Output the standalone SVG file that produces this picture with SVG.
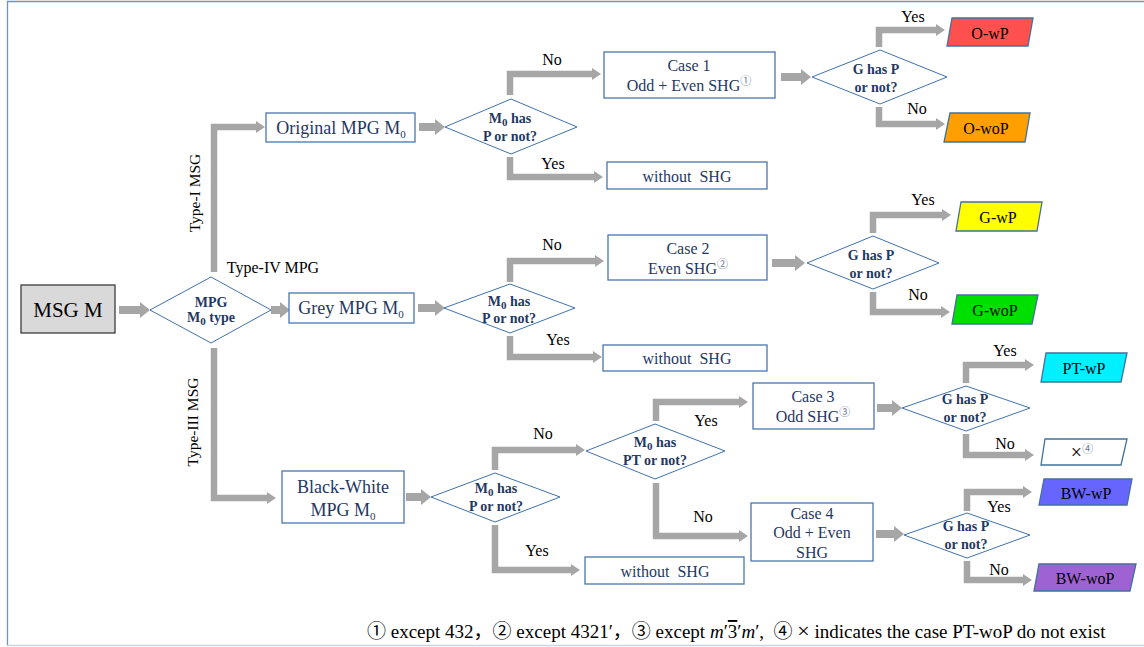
<svg xmlns="http://www.w3.org/2000/svg" width="1144" height="647" viewBox="0 0 1144 647">
<style>
.frame{stroke:#6f93bd;stroke-width:1.3;fill:none}
.box{fill:#fff;stroke:#4a76ad;stroke-width:1.3}
.gbox{fill:#d9d9d9;stroke:#3c3c3c;stroke-width:1.3}
.dia{fill:#fff;stroke:#3f72af;stroke-width:1}
.para{stroke:#41719c;stroke-width:1.3}
text{font-family:"Liberation Serif","Times New Roman","Noto Sans CJK SC",serif}
.t{font-size:16px;fill:#1f3864;text-anchor:middle}
.tl{font-size:18px;fill:#1f3864;text-anchor:middle}
.d{font-size:14px;font-weight:bold;fill:#1f3864;text-anchor:middle}
.lbl{font-size:16px;fill:#000;text-anchor:middle}
.r{font-size:16px;fill:#000;text-anchor:middle}
.sub{font-size:11px}
.sup{font-size:11px;fill:#6a7a9a}
.c{fill:none;stroke:#a6a6a6;stroke-width:6.5;marker-end:url(#ah)}
.s{fill:none;stroke:#a6a6a6;stroke-width:8;marker-end:url(#ahs)}
.rot{font-size:15.5px;fill:#000;text-anchor:middle}
</style>
<defs>
<marker id="ah" markerUnits="userSpaceOnUse" markerWidth="9" markerHeight="12" refX="0" refY="6" orient="auto" overflow="visible">
<path d="M0,0 L9,6 L0,12 Z" fill="#a6a6a6"/>
</marker>
<marker id="ahs" markerUnits="userSpaceOnUse" markerWidth="10" markerHeight="16" refX="0" refY="8" orient="auto" overflow="visible">
<path d="M0,0 L10,8 L0,16 Z" fill="#a6a6a6"/>
</marker>
</defs>
<rect width="1144" height="647" fill="#fff"/>
<path class="frame" d="M1144,1.5 H7.5 V645.5"/>
<path d="M7.5,645.5 H1144" stroke="#c9d5e5" stroke-width="1.5" fill="none"/>

<g id="connectors">
<path class="s" d="M119,310 H140"/>
<path class="c" d="M214,272 V127 H256"/>
<path class="s" d="M271,310 H280"/>
<path class="c" d="M214,348 V498 H267"/>
<path class="s" d="M419,127 H435"/>
<path class="c" d="M510,95 V74 H592"/>
<path class="c" d="M510,157 V177 H594"/>
<path class="s" d="M781,77 H801"/>
<path class="c" d="M879,47 V30 H936"/>
<path class="c" d="M879,107 V124 H936"/>
<path class="s" d="M418,308 H435"/>
<path class="c" d="M510,282 V261 H595"/>
<path class="c" d="M510,336 V357 H593"/>
<path class="s" d="M772,263 H795"/>
<path class="c" d="M873,233 V215 H942"/>
<path class="c" d="M873,292 V312 H941"/>
<path class="s" d="M406,497 H421"/>
<path class="c" d="M495,470 V450 H576"/>
<path class="c" d="M495,525 V570 H571"/>
<path class="c" d="M656,421 V402 H739"/>
<path class="c" d="M656,483 V536 H739"/>
<path class="s" d="M877,408 H892"/>
<path class="c" d="M966,383 V365 H1025"/>
<path class="c" d="M966,434 V455 H1025"/>
<path class="s" d="M876,534 H894"/>
<path class="c" d="M967,511 V492 H1023"/>
<path class="c" d="M967,561 V580 H1023"/>
</g>

<g id="edge-labels">
<text class="rot" transform="translate(200,193) rotate(-90)">Type-I MSG</text>
<text class="rot" transform="translate(198,422) rotate(-90)">Type-III MSG</text>
<text class="lbl" x="273" y="273">Type-IV MPG</text>
<text class="lbl" x="552" y="65">No</text>
<text class="lbl" x="553" y="169">Yes</text>
<text class="lbl" x="913" y="22">Yes</text>
<text class="lbl" x="917" y="114">No</text>
<text class="lbl" x="552" y="250">No</text>
<text class="lbl" x="558" y="345">Yes</text>
<text class="lbl" x="923" y="205">Yes</text>
<text class="lbl" x="918" y="300">No</text>
<text class="lbl" x="543" y="439">No</text>
<text class="lbl" x="537" y="556">Yes</text>
<text class="lbl" x="706" y="426">Yes</text>
<text class="lbl" x="703" y="522">No</text>
<text class="lbl" x="1005" y="356">Yes</text>
<text class="lbl" x="1005" y="449">No</text>
<text class="lbl" x="999" y="512">Yes</text>
<text class="lbl" x="999" y="575">No</text>
</g>

<g id="msg-m">
<rect class="gbox" x="21" y="285" width="94" height="48"/>
<text x="68" y="317" style="font-size:21px;fill:#000;text-anchor:middle">MSG M</text>
</g>

<g id="mpg-type">
<polygon class="dia" points="150,310 211,277 271,310 211,343"/>
<text class="d" x="211" y="307">MPG</text>
<text class="d" x="211" y="322">M<tspan class="sub" dy="3">0</tspan><tspan dy="-3"> type</tspan></text>
</g>

<g id="original-mpg">
<rect class="box" x="266" y="113" width="149" height="29"/>
<text class="tl" x="341" y="134">Original MPG M<tspan class="sub" dy="4">0</tspan></text>
</g>

<g id="grey-mpg">
<rect class="box" x="289" y="293" width="125" height="30"/>
<text class="tl" x="351" y="314">Grey MPG M<tspan class="sub" dy="4">0</tspan></text>
</g>

<g id="bw-mpg">
<rect class="box" x="282" y="471" width="122" height="52"/>
<text class="tl" x="343" y="493">Black-White</text>
<text class="tl" x="343" y="516">MPG M<tspan class="sub" dy="4">0</tspan></text>
</g>

<g id="d-original">
<polygon class="dia" points="445,127 511,99 577,127 511,154"/>
<text class="d" x="510" y="123">M<tspan class="sub" dy="3">0</tspan><tspan dy="-3"> has</tspan></text>
<text class="d" x="510" y="141">P or not?</text>
</g>

<g id="d-grey">
<polygon class="dia" points="444,308 510,284 575,308 510,333"/>
<text class="d" x="509" y="306">M<tspan class="sub" dy="3">0</tspan><tspan dy="-3"> has</tspan></text>
<text class="d" x="509" y="323">P or not?</text>
</g>

<g id="d-bw">
<polygon class="dia" points="431,497 495,473 560,497 495,522"/>
<text class="d" x="496" y="493">M<tspan class="sub" dy="3">0</tspan><tspan dy="-3"> has</tspan></text>
<text class="d" x="496" y="511">P or not?</text>
</g>

<g id="d-pt">
<polygon class="dia" points="586,451 655,424 725,451 655,479"/>
<text class="d" x="655" y="447">M<tspan class="sub" dy="3">0</tspan><tspan dy="-3"> has</tspan></text>
<text class="d" x="655" y="465">PT or not?</text>
</g>

<g id="case1">
<rect class="box" x="604" y="52" width="171" height="46"/>
<text class="t" x="689" y="71">Case 1</text>
<text class="t" x="689" y="91">Odd + Even SHG<tspan class="sup" dy="-6">①</tspan></text>
</g>

<g id="nshg1">
<rect class="box" x="607" y="162" width="160" height="27"/>
<text class="t" x="687" y="182">without&#160; SHG</text>
</g>

<g id="case2">
<rect class="box" x="608" y="235" width="159" height="45"/>
<text class="t" x="688" y="254">Case 2</text>
<text class="t" x="688" y="274">Even SHG<tspan class="sup" dy="-6">②</tspan></text>
</g>

<g id="nshg2">
<rect class="box" x="603" y="345" width="164" height="26"/>
<text class="t" x="687" y="364">without&#160; SHG</text>
</g>

<g id="case3">
<rect class="box" x="753" y="383" width="121" height="46"/>
<text class="t" x="813" y="402">Case 3</text>
<text class="t" x="813" y="422">Odd SHG<tspan class="sup" dy="-6">③</tspan></text>
</g>

<g id="case4">
<rect class="box" x="751" y="503" width="122" height="58"/>
<text class="t" x="812" y="519">Case 4</text>
<text class="t" x="812" y="538">Odd + Even</text>
<text class="t" x="812" y="558">SHG</text>
</g>

<g id="nshg3">
<rect class="box" x="585" y="557" width="159" height="27"/>
<text class="t" x="665" y="577">without&#160; SHG</text>
</g>

<g id="d-g1">
<polygon class="dia" points="812,77 880,50 947,77 880,104"/>
<text class="d" x="876" y="74">G has P</text>
<text class="d" x="876" y="92">or not?</text>
</g>

<g id="d-g2">
<polygon class="dia" points="807,263 873,236 939,263 873,289"/>
<text class="d" x="871" y="260">G has P</text>
<text class="d" x="871" y="278">or not?</text>
</g>

<g id="d-g3">
<polygon class="dia" points="902,408 966,386 1030,408 966,431"/>
<text class="d" x="965" y="404">G has P</text>
<text class="d" x="965" y="422">or not?</text>
</g>

<g id="d-g4">
<polygon class="dia" points="904,535 967,513 1030,535 967,558"/>
<text class="d" x="966" y="531">G has P</text>
<text class="d" x="966" y="549">or not?</text>
</g>

<g id="o-wp">
<polygon class="para" fill="#ff5050" points="952,18 1033,18 1028,46 947,46"/>
<text class="r" x="990" y="39">O-wP</text>
</g>
<g id="o-wop">
<polygon class="para" fill="#ffa000" points="950,113 1030,113 1025,142 944,142"/>
<text class="r" x="986" y="134">O-woP</text>
</g>
<g id="g-wp">
<polygon class="para" fill="#ffff00" points="961,202 1042,202 1037,231 956,231"/>
<text class="r" x="998" y="223">G-wP</text>
</g>
<g id="g-wop">
<polygon class="para" fill="#00e000" points="957,295 1038,295 1032,324 952,324"/>
<text class="r" x="995" y="316">G-woP</text>
</g>
<g id="pt-wp">
<polygon class="para" fill="#00f0ff" points="1046,353 1127,353 1121,382 1041,382"/>
<text class="r" x="1084" y="374">PT-wP</text>
</g>
<g id="pt-wop">
<polygon class="para" fill="#fff" points="1045,439 1127,439 1121,465 1041,465"/>
<text class="r" x="1082" y="459"><tspan style="font-size:20px">×</tspan><tspan class="sup" dy="-6">④</tspan></text>
</g>
<g id="bw-wp">
<polygon class="para" fill="#6666ff" points="1044,479 1132,479 1127,505 1039,505"/>
<text class="r" x="1086" y="499">BW-wP</text>
</g>
<g id="bw-wop">
<polygon class="para" fill="#9e62d2" points="1039,564 1136,564 1130,591 1034,591"/>
<text class="r" x="1085" y="584">BW-woP</text>
</g>

<g id="footnote">
<text x="367" y="638" style="font-size:19px;fill:#000">① except 432，② except 4321′，③ except <tspan font-style="italic">m</tspan>′<tspan text-decoration="overline">3</tspan>′<tspan font-style="italic">m</tspan>′,&#160;&#160;④ <tspan style="font-size:22px">×</tspan> indicates the case PT-woP do not exist</text>
</g>
</svg>
